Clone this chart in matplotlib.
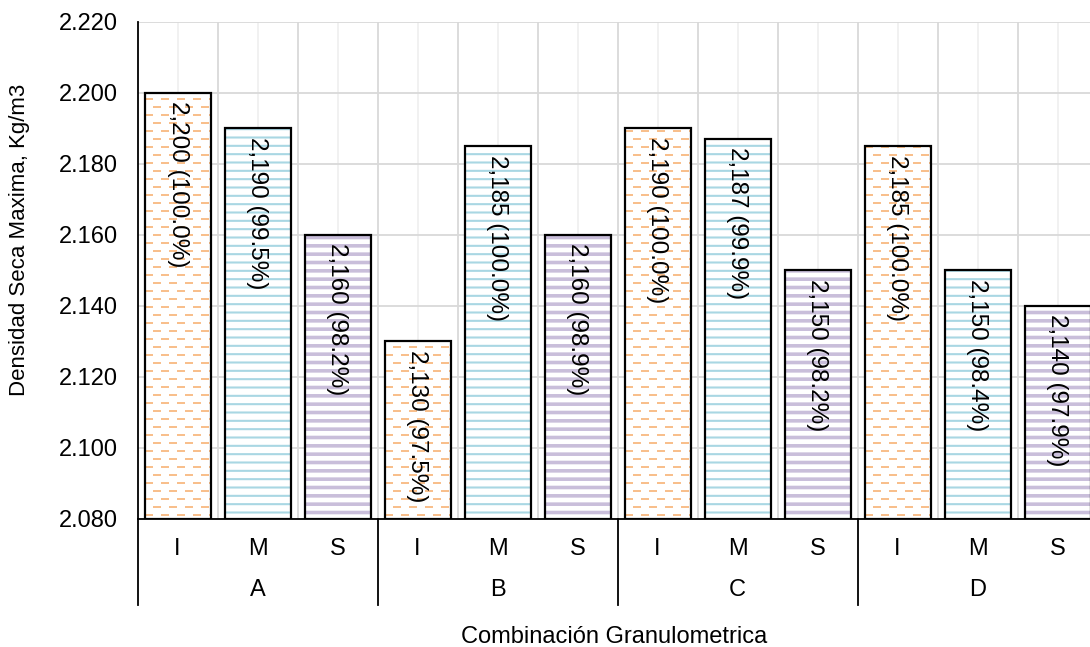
import matplotlib
matplotlib.use("Agg")
import matplotlib.pyplot as plt
from matplotlib.lines import Line2D

# ---- data -------------------------------------------------------------
groups = ["A", "B", "C", "D"]
levels = ["I", "M", "S"]
density_A = [2200, 2190, 2160]
density_B = [2130, 2185, 2160]
density_C = [2190, 2187, 2150]
density_D = [2185, 2150, 2140]
percent_A = [100.0, 99.5, 98.2]
percent_B = [97.5, 100.0, 98.9]
percent_C = [100.0, 99.9, 98.2]
percent_D = [100.0, 98.4, 97.9]
y_ticks = [2080, 2100, 2120, 2140, 2160, 2180, 2200, 2220]

densities = [density_A, density_B, density_C, density_D]
percents = [percent_A, percent_B, percent_C, percent_D]

# ---- style ------------------------------------------------------------
FS = 17
plt.rcParams["font.family"] = ["Liberation Sans", "DejaVu Sans"]
plt.rcParams["font.size"] = FS
plt.rcParams["lines.scale_dashes"] = False

W, H, DPI = 1090, 647, 100
fig = plt.figure(figsize=(W / DPI, H / DPI), dpi=DPI)
ax_left, ax_bottom, ax_w, ax_h = 137.5, 128, 960, 497
ax = fig.add_axes([ax_left / W, ax_bottom / H, ax_w / W, ax_h / H])

ymin, ymax = y_ticks[0], y_ticks[-1]
ax.set_ylim(ymin, ymax)
n = len(groups) * len(levels)
ax.set_xlim(-0.5, n - 0.5)

px = 72.0 / DPI  # points per pixel
bar_w = 0.825
level_color = {"I": "#F8BF8C", "M": "#A9D7E3", "S": "#C9BEDA"}
hatch_lw = {"M": 1.5, "S": 2.6}


def set_hatch_lw(patch, lw):
    if hasattr(patch, "set_hatch_linewidth"):
        patch.set_hatch_linewidth(lw)


for gi, g in enumerate(groups):
    for li, lv in enumerate(levels):
        x = gi * len(levels) + li
        v = densities[gi][li]
        p = percents[gi][li]
        col = level_color[lv]
        if lv == "I":
            base = ax.bar(x, v - ymin, bottom=ymin, width=bar_w, color="white",
                          linewidth=0, zorder=2)[0]
            # staggered dashed rows clipped to the bar
            top_frac = (v - ymin) / (ymax - ymin)
            step = 8.0 / ax_h
            k = 0
            while k * step < top_frac:
                yf = 4.0 / ax_h + k * step
                off = 0 if k % 2 == 0 else 8 * px
                ln = Line2D([x - bar_w / 2, x + bar_w / 2], [yf, yf],
                            transform=ax.get_xaxis_transform(), color=col,
                            linewidth=2 * px,
                            linestyle=(off, (8 * px, 8 * px)),
                            solid_capstyle="butt", dash_capstyle="butt",
                            zorder=2.5)
                ax.add_line(ln)
                ln.set_clip_path(base)
                k += 1
        else:
            plt.rcParams["hatch.linewidth"] = hatch_lw[lv]
            hb = ax.bar(x, v - ymin, bottom=ymin, width=bar_w, color="white",
                        edgecolor=col, linewidth=0, hatch="--", zorder=2)[0]
            set_hatch_lw(hb, hatch_lw[lv])
        ax.bar(x, v - ymin, bottom=ymin, width=bar_w, fill=False,
               edgecolor="black", linewidth=1.6, zorder=3)
        ax.annotate(f"{v:,.0f} ({p:.1f}%)", xy=(x, v), xytext=(0, -6),
                    textcoords="offset points", rotation=270,
                    ha="center", va="top", fontsize=17.5, zorder=4)

# ---- axes, grid, ticks ------------------------------------------------
ax.set_yticks(y_ticks)
ax.set_yticklabels([f"{t:,.0f}".replace(",", ".") for t in y_ticks])
ax.tick_params(axis="y", length=0, pad=14)

centers = list(range(n))
bounds = [c + 0.5 for c in range(n - 1)]
ax.set_xticks(bounds)
ax.set_xticklabels([""] * len(bounds))
ax.set_xticks(centers, minor=True)
ax.set_xticklabels(levels * len(groups), minor=True)
ax.tick_params(axis="x", which="both", length=0)
ax.tick_params(axis="x", which="minor", pad=14)

ax.set_axisbelow(True)
ax.yaxis.grid(True, color="#D9D9D9", linewidth=1.3)
ax.xaxis.grid(True, which="major", color="#D9D9D9", linewidth=1.3)
ax.xaxis.grid(True, which="minor", color="#F0F0F0", linewidth=1.3)

for s in ("top", "right"):
    ax.spines[s].set_visible(False)
for s in ("left", "bottom"):
    ax.spines[s].set_color("black")
    ax.spines[s].set_linewidth(1.3)

# group labels and separators below the axis
xt = ax.get_xaxis_transform()
drop = -(605 - 519) / ax_h
for gi, g in enumerate(groups):
    cx = gi * len(levels) + (len(levels) - 1) / 2
    ax.text(cx, -(590 - 519) / ax_h, g, transform=xt, ha="center",
            va="center", fontsize=FS)
for gi in range(len(groups)):
    sx = gi * len(levels) - 0.5
    ax.add_line(Line2D([sx, sx], [0, drop], transform=xt, color="black",
                       linewidth=1.3, clip_on=False))

ax.set_xlabel("Combinación Granulometrica", fontsize=FS, labelpad=0)
ax.xaxis.set_label_coords(0.497, -(626 - 519) / ax_h)
ax.set_ylabel("Densidad Seca Maxima, Kg/m3", fontsize=16)
ax.yaxis.set_label_coords(-(137.5 - 30) / ax_w, (519 - 240) / ax_h)

fig.savefig("out.png", dpi=DPI)
